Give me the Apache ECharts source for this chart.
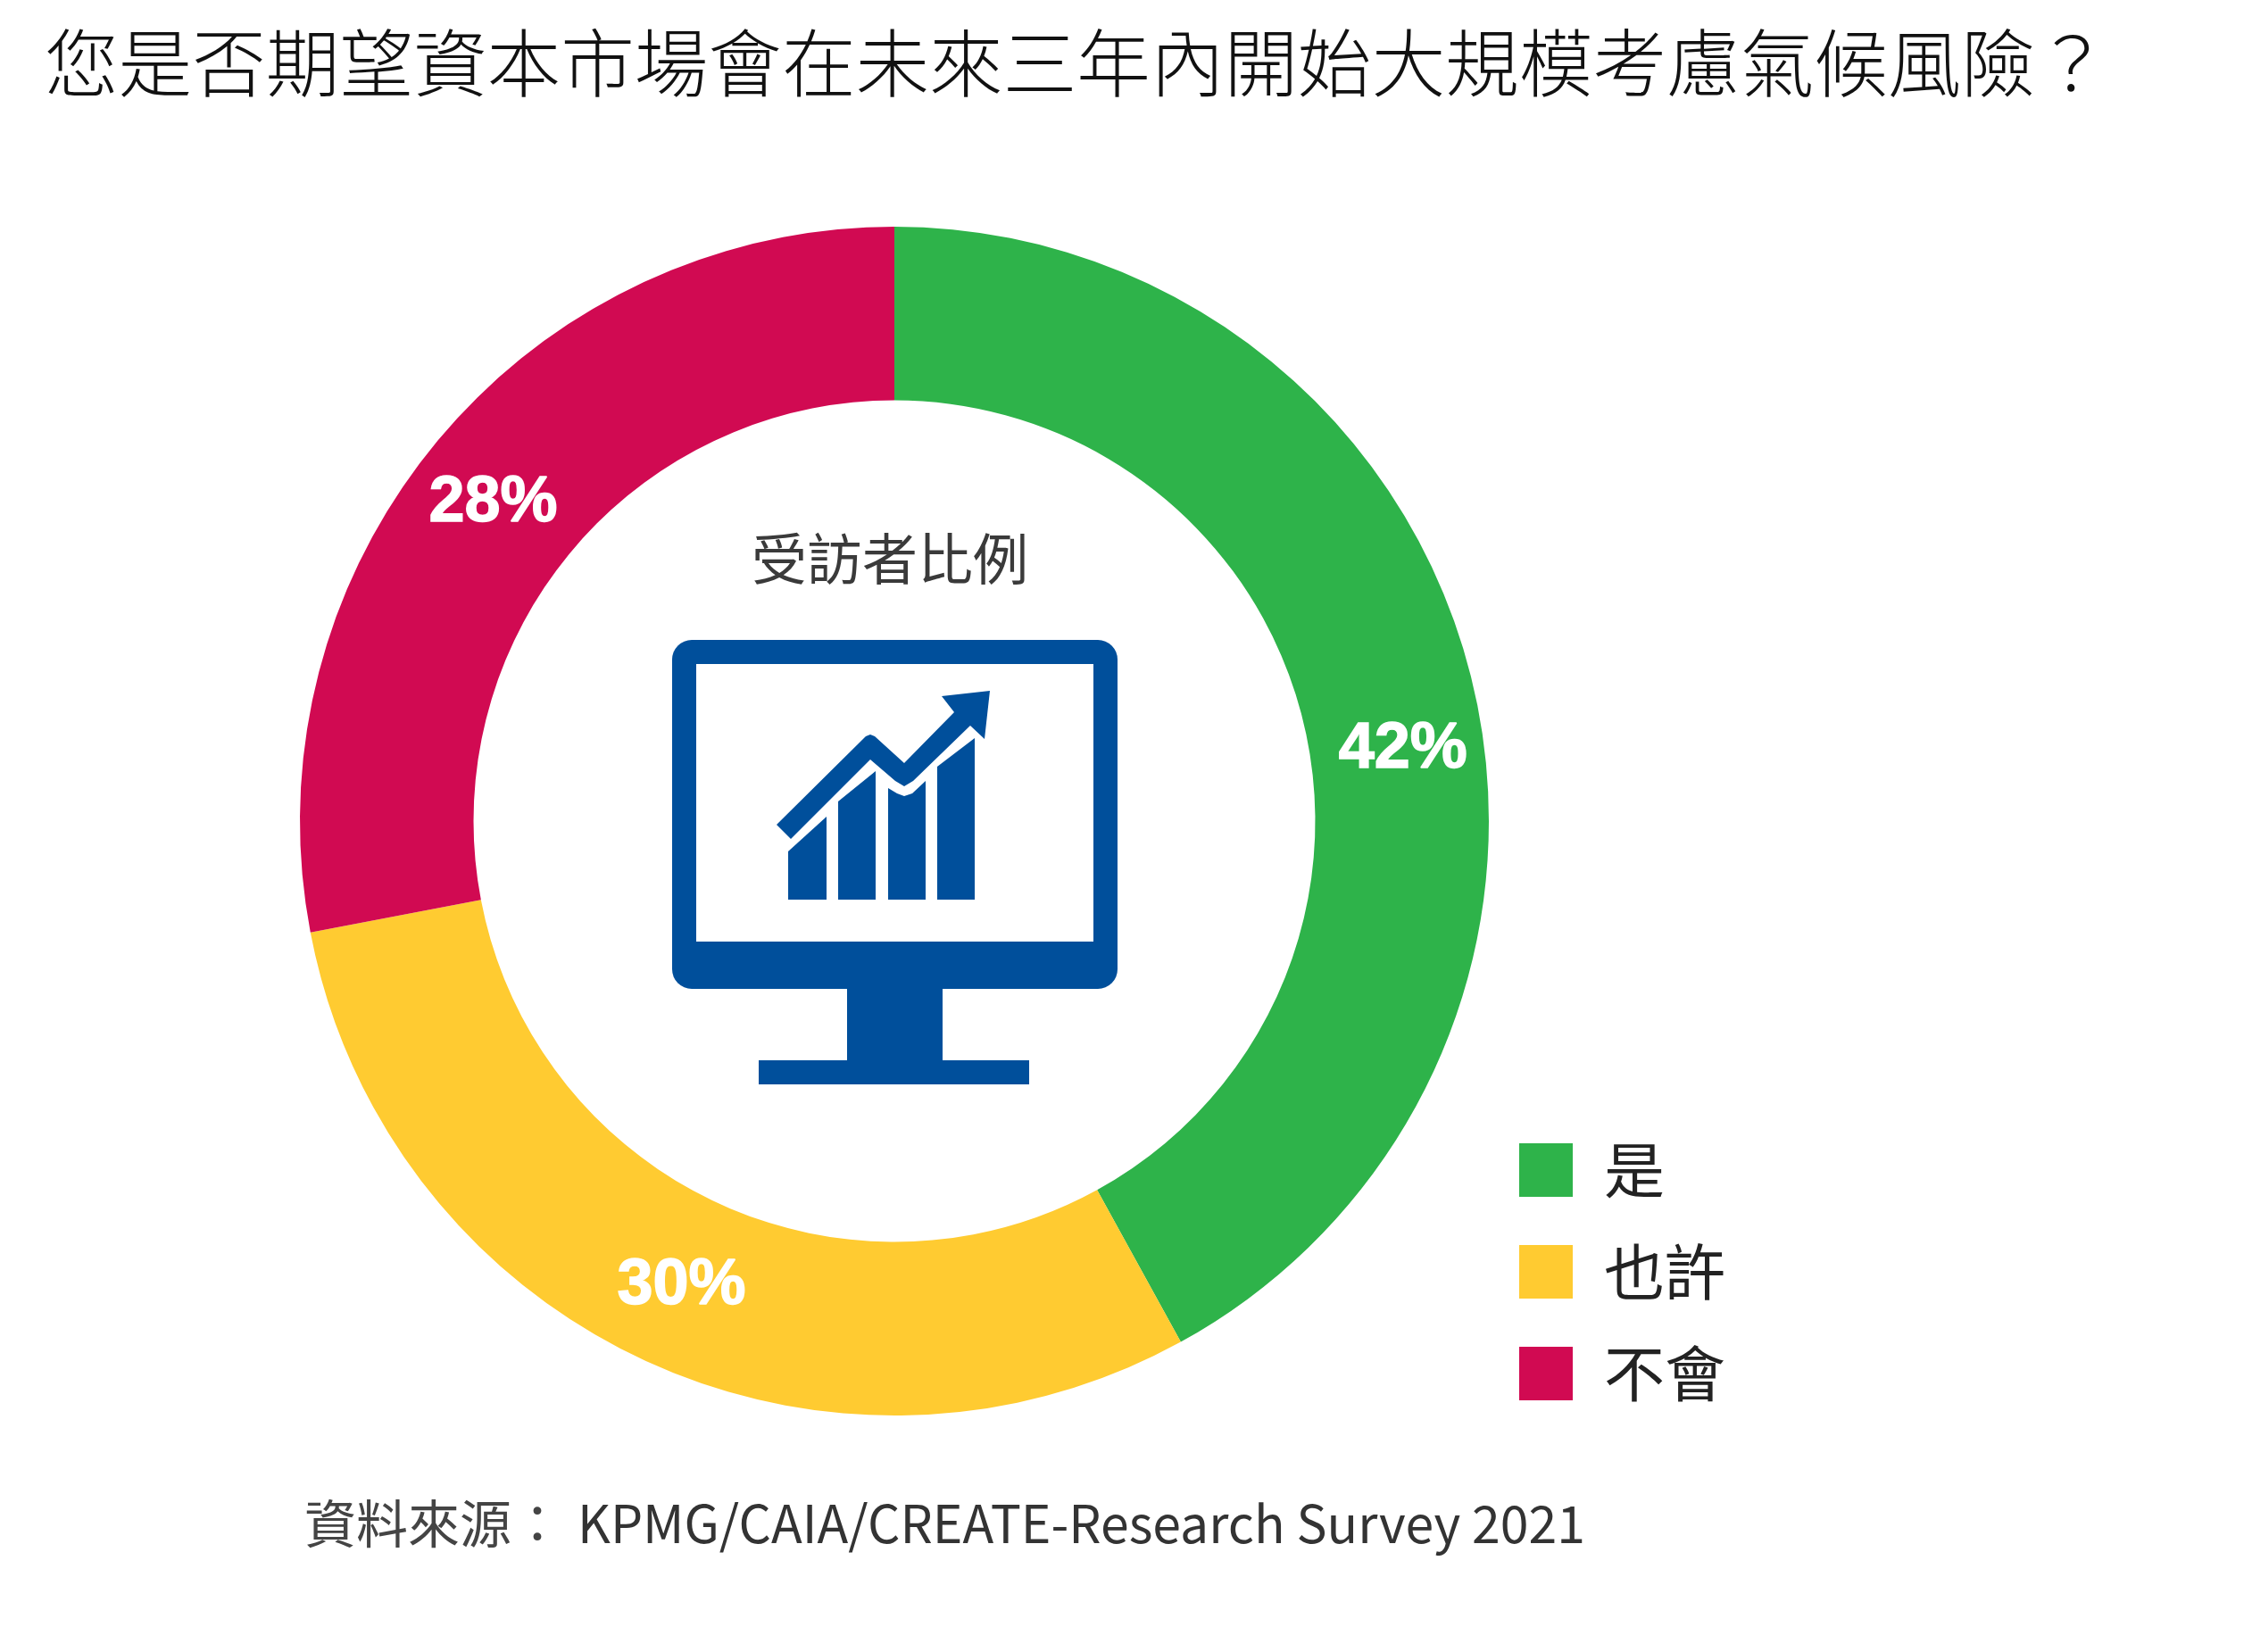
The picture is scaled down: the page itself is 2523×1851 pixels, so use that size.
<!DOCTYPE html>
<html>
<head>
<meta charset="utf-8">
<style>
html, body { margin: 0; padding: 0; background: #fff; }
#chart { width: 2523px; height: 1851px; }
</style>
<script src="https://cdn.jsdelivr.net/npm/echarts@6/dist/echarts.min.js"></script>
</head>
<body>
<div id="chart"></div>
<script>
const categories = ['是', '也許', '不會'];
const values = [42, 30, 28];
const colors = ['#2EB34A', '#FFCB31', '#D10A52'];
// the 42% label sits off the middle of its slice in the reference
const labelShift = [[16, 62], [5, 4], [-9, 9]];

const titleText = '您是否期望資本市場會在未來三年內開始大規模考慮氣候風險？';
const centerText = '受訪者比例';
const sourceHead = '資料來源：';
const sourceBody = 'KPMG/CAIA/CREATE-Research Survey 2021';

const cjkFont = '"Noto Sans CJK TC", "Noto Sans", sans-serif';
const iconBlue = '#004F9B';

function poly(points, fill) {
    return { type: 'polygon', shape: { points: points }, style: { fill: fill || iconBlue } };
}

// monitor icon in the middle of the ring
const icon = [
    { type: 'rect', shape: { x: 753, y: 717, width: 499, height: 391, r: 22 }, style: { fill: iconBlue } },
    { type: 'rect', shape: { x: 780, y: 744, width: 445, height: 311 }, style: { fill: '#fff' } },
    { type: 'rect', shape: { x: 949, y: 1100, width: 107, height: 92 }, style: { fill: iconBlue } },
    { type: 'rect', shape: { x: 850, y: 1188, width: 303, height: 27 }, style: { fill: iconBlue } },
    poly([[883, 954], [926, 915], [926, 1008], [883, 1008]]),
    poly([[939, 898], [981, 864], [981, 1008], [939, 1008]]),
    poly([[995, 883], [1005, 889], [1013, 892], [1022, 889], [1037, 875], [1037, 1008], [995, 1008]]),
    poly([[1050, 859], [1092, 827], [1092, 1008], [1050, 1008]]),
    poly([[870, 924], [970, 825], [975, 823], [980, 825], [1013, 855], [1069, 798], [1055, 780], [1109, 774], [1103, 828], [1087, 813], [1023, 875], [1013, 881], [1003, 875], [975, 851], [886, 940]])
];

const texts = [
    { type: 'text', x: 997, y: 626, style: { text: centerText, font: '62px ' + cjkFont, fill: '#3a3a3a', align: 'center', verticalAlign: 'middle' } },
    { type: 'text', x: 341, y: 1707, style: { text: sourceHead, font: '58px ' + cjkFont, fill: '#444', align: 'left', verticalAlign: 'middle' } },
    { type: 'text', x: 647, y: 1707, scaleX: 0.985, style: { text: sourceBody, font: '58px ' + cjkFont, fill: '#333', align: 'left', verticalAlign: 'middle' } }
];

const chart = echarts.init(document.getElementById('chart'), null, { renderer: 'canvas' });
chart.setOption({
    animation: false,
    backgroundColor: '#fff',
    title: {
        text: titleText,
        left: 45,
        top: 20,
        textStyle: { fontFamily: cjkFont, fontSize: 82.6, fontWeight: 300, color: '#111', lineHeight: 92 }
    },
    legend: {
        orient: 'vertical',
        left: 1697,
        top: 1272,
        itemWidth: 60,
        itemHeight: 60,
        itemGap: 46,
        icon: 'rect',
        data: categories,
        selectedMode: false,
        textStyle: { fontFamily: cjkFont, fontSize: 68, color: '#222', lineHeight: 60, padding: [0, 0, 0, 30] }
    },
    graphic: icon.concat(texts),
    series: [{
        type: 'pie',
        center: [1002, 920],
        radius: [471.5, 666],
        startAngle: 90,
        clockwise: true,
        avoidLabelOverlap: false,
        silent: true,
        data: categories.map((name, i) => ({ name: name, value: values[i], itemStyle: { color: colors[i] } })),
        label: {
            position: 'inside',
            formatter: '{c}%',
            color: '#fff',
            fontFamily: '"Liberation Sans", Arial, sans-serif',
            fontWeight: 'bold',
            fontSize: 72,
            textBorderColor: '#fff',
            textBorderWidth: 1.5
        },
        labelLine: { show: false },
        labelLayout: function (params) {
            const s = labelShift[params.dataIndex];
            return { dx: s[0], dy: s[1] };
        }
    }]
});
</script>
</body>
</html>
